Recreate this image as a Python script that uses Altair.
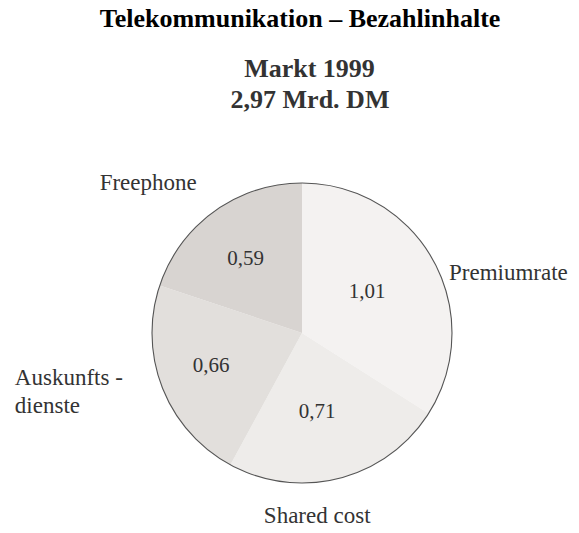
import altair as alt
import pandas as pd
import math

categories = ["Premiumrate", "Shared cost", "Auskunftsdienste", "Freephone"]
values = [1.01, 0.71, 0.66, 0.59]
outer_labels = ["Premiumrate", "Shared cost", "Auskunfts -\ndienste", "Freephone"]
fill_colors = ["#f4f2f1", "#eeecea", "#e2dfdc", "#d8d4d1"]

title_text = "Telekommunikation – Bezahlinhalte"
subtitle_lines = ["Markt 1999", "2,97 Mrd. DM"]

df = pd.DataFrame({
    "category": categories,
    "value": values,
    "outer": outer_labels,
    "idx": list(range(len(categories))),
})
total = sum(values)

W, H = 563, 517
CX, CY = 294, 325
R = 150
FONT = "Liberation Serif"

base = alt.Chart(df).encode(
    theta=alt.Theta("value:Q", stack=True),
    order=alt.Order("idx:Q"),
    x=alt.value(CX),
    y=alt.value(CY),
)

pie = base.mark_arc(radius=R, stroke=None).encode(
    color=alt.Color("category:N",
                    scale=alt.Scale(domain=categories, range=fill_colors),
                    legend=None)
)

outline = alt.Chart(df).mark_arc(
    radius=R, fillOpacity=0, stroke="#555555", strokeWidth=1.1
).encode(
    theta=alt.Theta("sum(value):Q"),
    x=alt.value(CX),
    y=alt.value(CY),
)

# mid-angle of each slice, computed before filtering
mid = alt.Chart(df).transform_window(
    cum="sum(value)", sort=[alt.SortField("idx")],
    frame=[None, 0]
).transform_calculate(
    mid="datum.cum - datum.value / 2",
    lab="replace(format(datum.value, '.2f'), '.', ',')"
)

def slice_text(name, field, radius, dx, dy, align, size):
    return mid.transform_filter(alt.datum.category == name).mark_text(
        radius=radius, dx=dx, dy=dy, align=align, baseline="alphabetic",
        font=FONT, fontSize=size, color="#333333",
        lineBreak="\n", lineHeight=28
    ).encode(
        theta=alt.Theta("mid:Q", stack=None,
                        scale=alt.Scale(domain=[0, total], range=[0, 2 * math.pi])),
        text=alt.Text(f"{field}:N"),
        x=alt.value(CX),
        y=alt.value(CY),
    )

value_layers = [
    slice_text("Premiumrate", "lab", 88, -12, 7, "center", 21),
    slice_text("Shared cost", "lab", 88, -7, 0, "center", 21),
    slice_text("Auskunftsdienste", "lab", 88, -9, 7, "center", 21),
    slice_text("Freephone", "lab", 88, -5, 3, "center", 21),
]

outer_layers = [
    slice_text("Premiumrate", "outer", 170, -2, 29, "left", 23),
    slice_text("Shared cost", "outer", 170, -27.5, 25.5, "center", 23),
    slice_text("Auskunftsdienste", "outer", 170, -129, -10, "left", 23),
    slice_text("Freephone", "outer", 170, -54.5, -5, "center", 23),
]

def text_layer(t, x, y, size, color, weight="bold"):
    return alt.Chart(pd.DataFrame({"t": [t]})).mark_text(
        font=FONT, fontSize=size, fontWeight=weight, color=color,
        align="center", baseline="alphabetic"
    ).encode(text="t:N", x=alt.value(x), y=alt.value(y))

titles = [
    text_layer(title_text, 292, 19, 26, "#000000"),
    text_layer(subtitle_lines[0], 301.5, 69, 26, "#333333"),
    text_layer(subtitle_lines[1], 302, 100, 26, "#333333"),
]

chart = alt.layer(pie, outline, *value_layers, *outer_layers, *titles).properties(
    width=W, height=H, autosize="none", padding=0
).configure_view(stroke=None)

chart.save("out.html", embed_options={"renderer": "svg", "actions": False})
